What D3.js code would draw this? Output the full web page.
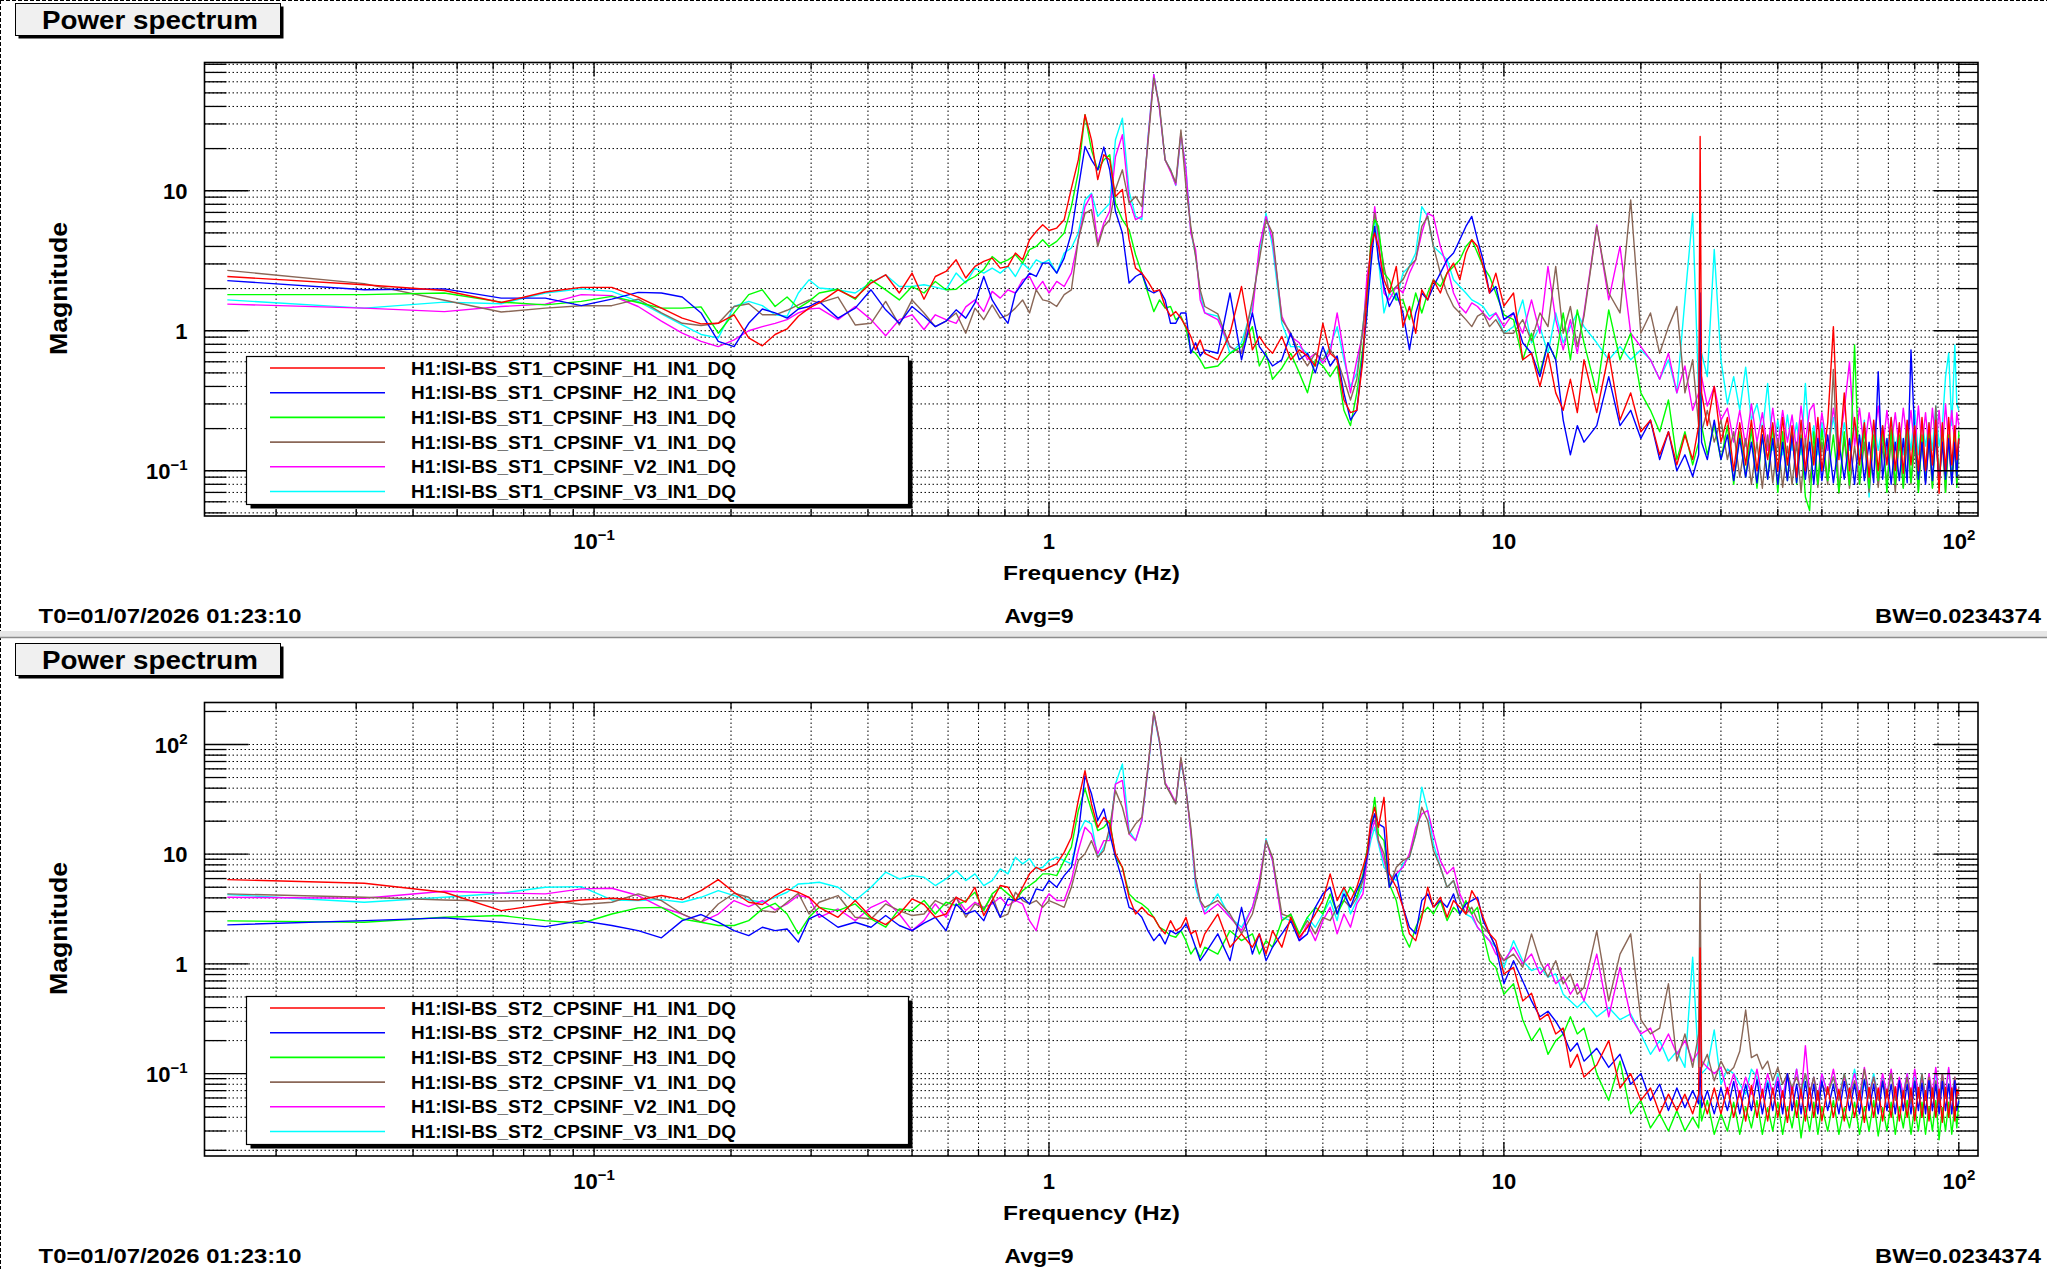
<!DOCTYPE html>
<html>
<head>
<meta charset="utf-8">
<script src="https://cdn.jsdelivr.net/npm/d3@7"></script>
<style>
  body { margin: 0; background: #fff; overflow: hidden; }
  text { font-family: "Liberation Sans", Arial, Helvetica, sans-serif; font-weight: bold; fill: #000; }
</style>
</head>
<body>
<svg id="chart"></svg>
<script>
// frequency bins (Hz), shared by all traces
const freq = [
  0.015625, 0.03125, 0.046875, 0.0625, 0.078125, 0.09375, 0.109375, 0.125, 0.140625, 0.15625,
  0.171875, 0.1875, 0.203125, 0.21875, 0.234375, 0.25, 0.265625, 0.28125, 0.296875,
  0.3125, 0.34375, 0.375, 0.40625, 0.4375, 0.46875, 0.5, 0.53125, 0.5625, 0.59375, 0.625,
  0.65625, 0.6875, 0.71875, 0.75, 0.78125, 0.8125, 0.84375, 0.875, 0.90625, 0.9375, 0.96875,
  1.0, 1.04, 1.08, 1.12, 1.16, 1.2, 1.24, 1.28, 1.32, 1.36, 1.4, 1.45, 1.5, 1.55, 1.6, 1.65,
  1.7, 1.75, 1.8, 1.85, 1.9, 1.95, 2.0, 2.05, 2.1, 2.15, 2.2,
  2.35, 2.5, 2.65, 2.8, 2.9, 3.0, 3.1, 3.25, 3.4, 3.55, 3.7, 3.85, 4.0, 4.15, 4.3, 4.45, 4.6, 4.75, 4.9, 5.0,
  5.1, 5.2, 5.3, 5.45, 5.6, 5.8, 6.0, 6.2, 6.4, 6.6, 6.8, 7.0, 7.25, 7.5, 7.75, 8.0, 8.25, 8.5, 8.75, 9.0, 9.3, 9.6, 10.0,
  10.5, 11, 11.5, 12, 12.5, 13, 13.5, 14, 14.5, 15, 16, 17, 18, 19, 20, 21, 22, 23, 24, 25,
  26, 26.8, 27, 27.2, 28, 29,
  30, 31, 32, 33, 34, 35, 36, 37, 38, 39, 40, 41, 42, 43, 44, 45, 46, 47, 48, 49, 50,
  51.5, 53, 54.5, 56, 57.5, 59, 60.5, 62, 63.5, 65, 66.5, 68, 69.5, 71, 72.5, 74, 75.5, 77, 78.5,
  80, 81.5, 83, 84.5, 86, 87.5, 89, 90.5, 92, 93.5, 95, 96.5, 98, 99, 100
];

// stage 1 magnitudes
const st1H1 = [
  2.44,2.13,1.94,1.59,1.89,2.04,2.04,1.74,1.45,1.23,1.12,1.13,1.30,0.89,0.78,0.94,1.03,1.27,1.45,
  1.58,1.96,1.71,2.19,2.51,1.86,2.58,1.68,2.44,2.65,3.21,2.38,2.88,3.13,3.30,2.80,2.88,3.59,3.21,4.47,5.12,5.71,
  5.2,5.41,6.21,10.4,16.6,34.9,23.1,12.0,18.1,16.6,9.1,10.2,4.47,2.80,2.58,2.25,1.91,1.96,1.49,1.27,1.37,1.23,1.07,0.91,0.73,0.86,0.69,
  0.62,0.96,2.07,0.73,0.91,0.77,0.69,0.91,0.62,0.73,0.66,0.56,1.13,0.69,0.62,0.32,0.26,0.27,0.62,1.86,
  4.0,4.99,4.0,2.31,1.86,2.88,1.07,1.49,0.96,1.96,1.66,2.31,1.86,2.58,3.04,2.31,3.59,4.47,4.0,2.88,1.86,2.58,1.5,
  1.86,0.62,0.69,0.40,0.69,0.36,0.27,0.45,0.26,0.62,0.26,0.69,0.23,0.36,0.19,0.23,0.13,0.19,0.11,0.18,
  0.12,0.21,24.4,0.36,0.21,0.40,
  0.16,0.24,0.10,0.22,0.11,0.23,0.10,0.21,0.12,0.22,0.10,0.24,0.11,0.21,0.09,0.23,0.10,0.22,0.11,0.24,0.10,
  0.22,1.07,0.12,0.36,0.10,0.24,0.11,0.22,0.09,0.23,0.10,0.21,0.11,0.24,0.10,0.22,0.096,0.23,
  0.11,0.21,0.10,0.24,0.10,0.22,0.11,0.23,0.069,0.22,0.10,0.24,0.11,0.21,0.12,0.17
];
const st1H2 = [
  2.28,1.96,1.99,1.71,1.71,1.51,1.68,1.88,1.86,1.74,1.34,0.84,0.77,1.13,1.43,1.34,1.23,1.43,1.49,
  1.62,1.23,1.45,1.96,1.41,1.13,1.49,1.27,1.07,1.17,1.41,1.23,1.58,2.44,1.66,1.34,1.13,1.86,2.19,2.58,2.44,3.04,
  3.04,2.58,3.30,4.99,10.4,20.7,16.6,14.1,20.5,14.1,7.13,4.99,2.19,2.44,2.58,1.96,1.86,1.96,1.66,1.13,1.13,1.34,1.34,0.69,0.82,0.66,0.73,
  0.69,1.86,0.62,1.34,0.77,0.66,0.56,0.62,0.96,0.62,0.69,0.50,0.77,0.56,0.66,0.36,0.23,0.27,0.69,1.34,
  2.88,5.56,3.21,2.07,1.49,1.86,1.34,0.73,1.34,1.86,1.66,2.07,2.58,3.21,3.59,4.47,5.56,6.56,4.47,3.21,1.86,2.07,1.2,
  1.34,0.82,0.69,0.47,0.82,0.62,0.23,0.13,0.21,0.16,0.21,0.47,0.21,0.27,0.17,0.23,0.12,0.19,0.10,0.13,
  0.091,0.13,1.86,0.16,0.12,0.23,
  0.12,0.18,0.085,0.17,0.09,0.16,0.082,0.18,0.087,0.17,0.08,0.16,0.085,0.18,0.082,0.17,0.087,0.16,0.08,0.17,0.085,
  0.18,0.082,0.16,0.087,0.17,0.08,0.18,0.085,0.16,0.082,0.51,0.087,0.17,0.08,0.16,0.085,0.17,0.082,
  0.73,0.18,0.087,0.16,0.08,0.17,0.085,0.18,0.082,0.16,0.087,0.17,0.08,0.16,0.091,0.17
];
const st1H3 = [
  1.81,1.81,1.86,1.60,1.53,1.62,1.76,1.59,1.45,1.45,1.48,0.96,1.34,1.81,1.96,1.49,1.74,1.45,1.62,
  1.86,1.98,1.68,2.31,1.96,1.66,2.07,1.86,2.25,1.96,1.98,2.25,2.44,2.73,3.39,3.04,3.21,3.49,3.04,3.79,4.0,4.47,
  4.0,4.35,4.99,7.70,13.6,34.9,19.5,14.1,16.6,18.1,8.15,6.21,5.26,3.49,2.58,1.86,1.37,1.66,1.45,1.49,1.20,1.27,1.04,0.73,0.69,0.62,0.54,
  0.56,0.69,0.77,1.07,0.56,0.69,0.45,0.54,0.69,0.50,0.36,0.62,0.56,0.47,0.56,0.27,0.21,0.36,0.77,1.34,
  4.47,6.21,5.56,2.58,2.31,1.66,1.66,1.20,1.86,1.34,1.86,2.31,2.07,2.58,2.88,3.21,4.0,4.47,3.59,2.88,2.44,1.86,1.3,
  1.2,0.62,0.96,0.5,0.82,0.62,1.34,0.62,1.41,0.82,0.36,1.41,0.62,0.96,0.36,0.27,0.19,0.32,0.12,0.19,
  0.11,0.16,0.36,0.21,0.13,0.21,
  0.12,0.21,0.08,0.19,0.09,0.2,0.075,0.18,0.087,0.21,0.07,0.19,0.085,0.2,0.08,0.18,0.065,0.052,0.19,0.08,0.2,
  0.085,0.18,0.07,0.19,0.079,0.79,0.08,0.2,0.075,0.18,0.085,0.19,0.07,0.2,0.08,0.18,0.075,0.21,
  0.082,0.19,0.07,0.18,0.085,0.2,0.075,0.19,0.08,0.21,0.07,0.18,0.085,0.2,0.076,0.19
];
const st1V1 = [
  2.70,2.17,1.65,1.36,1.45,1.51,1.51,1.68,1.34,1.13,1.09,1.13,1.49,1.56,1.30,1.30,1.40,1.53,1.66,
  1.58,1.74,1.10,1.13,1.62,1.10,1.66,1.34,1.07,1.17,1.34,0.96,1.45,1.20,1.53,1.23,1.30,1.45,1.66,1.34,1.96,1.66,
  1.62,1.49,1.81,1.96,4.47,6.9,7.33,4.0,5.56,6.21,10.2,14.1,8.15,9.1,7.7,21.8,63.7,40.1,16.6,14.1,11.4,27.2,10.7,5.56,3.39,1.96,1.49,
  1.32,0.77,0.69,1.66,3.21,6.21,4.99,1.20,0.96,0.69,0.56,0.69,0.62,0.73,0.62,0.45,0.32,0.45,1.07,1.86,
  4.0,6.9,4.99,2.88,1.86,2.07,2.31,2.88,3.21,5.56,6.56,4.0,2.58,1.86,1.49,1.34,1.20,1.07,1.27,1.34,1.07,1.20,0.96,
  0.96,1.2,0.85,1.34,1.07,2.88,0.96,1.49,0.77,1.27,5.56,1.86,1.34,8.6,0.96,1.34,0.69,1.07,1.49,0.36,
  0.62,0.21,0.36,0.19,0.27,0.16,
  0.23,0.12,0.19,0.09,0.17,0.08,0.16,0.075,0.18,0.082,0.17,0.076,0.15,0.08,0.16,0.07,0.17,0.082,0.15,0.076,0.16,
  0.08,0.53,0.069,0.17,0.075,0.15,0.08,0.16,0.07,0.17,0.076,0.15,0.082,0.16,0.07,0.17,0.076,0.16,
  0.08,0.15,0.072,0.17,0.082,0.16,0.076,0.29,0.08,0.16,0.07,0.17,0.082,0.15,0.08,0.18
];
const st1V2 = [
  1.55,1.45,1.37,1.49,1.55,1.81,1.78,1.49,1.17,0.96,0.84,0.77,0.86,1.0,1.07,1.13,1.20,1.34,1.43,
  1.45,1.20,1.49,1.20,0.92,1.20,1.30,1.02,1.30,1.20,1.13,1.48,1.66,1.37,1.91,1.71,1.96,1.86,2.31,2.44,1.96,2.25,
  1.86,2.25,2.07,2.58,4.47,7.7,9.4,4.23,5.88,7.13,17.5,25.1,8.6,6.21,6.56,23.1,67.6,37.9,16.6,13.7,11.0,25.8,14.1,4.99,3.79,1.66,1.34,
  1.20,0.77,0.69,1.34,4.0,6.56,4.47,1.27,0.91,0.82,0.62,0.69,0.59,0.69,1.34,0.69,0.36,0.62,0.96,2.44,
  3.59,7.7,4.47,1.86,1.66,2.07,1.86,2.58,3.21,4.99,6.9,6.56,4.0,2.88,1.86,1.49,1.34,1.58,1.49,1.34,1.20,1.34,1.07,
  1.34,0.96,1.66,0.96,2.88,1.2,0.73,1.2,0.69,1.34,5.7,1.66,4.0,0.96,0.77,0.62,0.45,0.69,0.36,0.56,
  0.27,0.36,0.3,0.47,0.29,0.4,
  0.23,0.28,0.16,0.27,0.15,0.3,0.16,0.26,0.14,0.28,0.15,0.27,0.16,0.25,0.14,0.29,0.16,0.27,0.3,0.15,0.26,
  0.14,0.28,0.15,0.27,0.6,0.15,0.28,0.14,0.26,0.16,0.29,0.14,0.27,0.15,0.26,0.14,0.28,0.16,
  0.27,0.14,0.29,0.15,0.26,0.14,0.28,0.15,0.27,0.14,0.3,0.16,0.27,0.15,0.26,0.21
];
const st1V3 = [
  1.66,1.45,1.60,1.56,1.86,1.99,1.91,1.62,1.32,1.10,0.94,0.89,1.49,1.62,1.51,1.30,1.27,1.86,2.31,
  2.02,1.96,1.86,2.21,2.51,2.07,2.07,2.13,2.05,1.96,2.58,2.19,2.80,2.58,2.80,2.58,2.88,2.44,3.04,2.73,3.21,3.04,
  3.21,2.58,3.59,3.90,4.99,8.6,9.6,6.56,7.33,8.15,23.1,33.0,9.9,6.56,6.21,23.7,67.6,39,16.6,14.1,10.9,25.1,14.5,5.12,3.49,1.86,1.34,
  1.27,0.69,0.82,1.49,3.59,6.9,4.0,1.13,0.77,0.77,0.69,0.56,0.62,0.77,1.07,0.62,0.40,0.50,1.07,2.07,
  3.21,6.9,3.21,1.34,1.86,1.66,2.58,2.88,3.59,7.7,6.56,4.0,3.59,3.21,2.31,2.07,1.86,1.66,1.58,1.49,1.27,1.34,0.96,
  1.07,1.66,0.82,1.07,0.69,1.34,0.82,1.07,1.34,1.07,0.82,0.62,0.77,0.62,0.73,0.62,0.45,0.62,0.36,1.66,
  6.9,0.36,0.5,0.69,0.47,3.8,
  0.62,0.3,0.47,0.27,0.55,0.23,0.3,0.19,0.42,0.14,0.23,0.13,0.25,0.14,0.22,0.13,0.42,0.14,0.21,0.13,0.22,
  0.14,0.24,0.13,0.22,0.14,0.21,0.13,0.23,0.065,0.22,0.14,0.21,0.13,0.24,0.14,0.21,0.13,0.22,
  0.14,0.27,0.13,0.23,0.15,0.22,0.14,0.29,0.15,0.21,0.47,0.69,0.21,0.79,0.3,0.27
];

// stage 2 magnitudes
const st2H1 = [
  5.87,5.44,4.50,3.06,3.52,3.83,3.97,3.83,4.20,3.86,4.66,5.87,4.50,3.65,3.48,4.20,4.83,4.50,4.05,
  3.28,2.66,3.78,2.66,2.28,2.85,3.91,3.48,2.66,2.85,4.05,3.65,5.0,2.76,3.78,5.18,5.0,3.78,5.0,6.62,7.6,7.1,
  7.6,8.17,10.4,14.3,30.9,57.8,28.7,17.6,21.7,18.9,10.1,7.6,4.05,2.85,3.28,2.85,2.66,2.16,1.88,2.48,2.01,2.16,2.66,1.88,2.01,1.42,1.88,
  2.85,1.42,1.88,1.42,1.88,1.23,2.01,1.42,2.66,1.75,2.16,2.85,3.78,6.62,3.78,5.0,3.78,5.0,7.6,10.1,
  20.3,26.8,17.6,33.0,6.62,5.0,3.28,1.88,1.63,2.66,5.0,3.28,4.05,2.66,3.78,3.28,2.85,4.66,3.78,2.66,1.88,1.63,0.81,
  0.93,0.46,0.54,0.31,0.35,0.23,0.26,0.114,0.15,0.093,0.12,0.2,0.074,0.1,0.057,0.074,0.043,0.065,0.046,0.065,
  0.043,0.065,1.4,0.065,0.043,0.074,
  0.043,0.075,0.04,0.07,0.037,0.078,0.04,0.072,0.037,0.074,0.04,0.07,0.036,0.075,0.04,0.072,0.037,0.074,0.04,0.07,0.037,
  0.076,0.04,0.072,0.037,0.074,0.04,0.07,0.036,0.075,0.04,0.074,0.037,0.072,0.04,0.076,0.037,0.07,0.04,
  0.074,0.037,0.075,0.04,0.07,0.037,0.074,0.04,0.072,0.036,0.075,0.04,0.074,0.037,0.072,0.065
];
const st2H2 = [
  2.27,2.48,2.63,2.40,2.19,2.48,2.24,2.01,1.73,2.48,2.82,2.40,2.01,1.81,2.16,2.01,2.08,1.58,2.57,
  2.85,2.16,2.40,2.16,2.76,2.24,2.01,2.35,2.66,2.01,3.52,2.85,3.06,2.48,3.78,2.66,3.91,3.78,4.05,3.52,4.83,4.66,
  5.75,5.0,6.38,7.6,15.3,52,35.5,20.3,25.9,15.3,9.4,5.75,3.28,3.06,2.66,2.01,1.63,1.88,1.52,2.01,1.88,2.01,2.31,1.88,1.42,1.07,1.23,
  1.88,1.07,3.28,1.23,1.88,1.07,1.42,1.88,2.48,1.63,1.88,3.28,4.35,5.0,2.85,4.35,3.28,4.66,6.16,9.4,
  17.6,23.3,18.9,17.6,5.0,6.62,3.28,2.16,1.88,3.78,4.35,3.28,3.78,3.28,4.35,2.85,3.52,3.78,4.05,2.48,1.88,1.42,0.66,
  1.07,0.70,0.46,0.33,0.37,0.30,0.23,0.16,0.19,0.13,0.17,0.114,0.15,0.08,0.1,0.057,0.08,0.046,0.074,0.049,
  0.07,0.053,0.114,0.049,0.07,0.043,
  0.074,0.046,0.085,0.043,0.08,0.046,0.088,0.043,0.082,0.046,0.085,0.043,0.1,0.046,0.08,0.043,0.085,0.046,0.08,0.043,0.086,
  0.046,0.08,0.043,0.085,0.046,0.08,0.043,0.088,0.046,0.08,0.043,0.085,0.046,0.08,0.043,0.086,0.046,0.08,
  0.043,0.085,0.046,0.082,0.043,0.086,0.046,0.08,0.043,0.085,0.046,0.08,0.043,0.086,0.046,0.057
];
const st2H3 = [
  2.47,2.40,2.66,2.76,2.48,2.35,2.85,3.24,3.28,2.57,2.40,2.24,2.24,2.48,3.17,3.57,2.85,1.88,2.66,
  3.28,3.06,3.52,2.57,2.16,3.17,3.06,3.78,2.85,3.65,3.40,3.78,4.50,3.06,4.35,5.0,4.35,3.78,4.66,5.18,5.75,6.62,
  6.62,6.38,8.75,11.6,25.0,39.4,25.0,16.4,17.6,20.3,9.4,7.6,4.35,3.78,3.52,3.17,2.66,2.16,2.01,1.81,1.75,2.01,1.63,1.23,1.42,1.15,1.42,
  1.23,2.01,1.63,1.88,1.23,1.63,1.42,2.48,2.85,1.88,2.66,3.28,2.85,4.35,2.85,3.78,5.0,4.05,6.62,10.8,
  17.6,33.0,15.3,13.3,5.36,3.78,1.88,1.42,2.16,2.85,3.28,2.85,3.78,2.48,3.28,2.85,3.78,2.85,3.28,1.88,1.07,0.93,0.53,
  0.66,0.31,0.2,0.26,0.15,0.2,0.23,0.33,0.23,0.26,0.1,0.057,0.13,0.043,0.057,0.032,0.043,0.03,0.046,0.03,
  0.04,0.032,0.057,0.037,0.057,0.028,
  0.043,0.03,0.055,0.028,0.05,0.032,0.057,0.028,0.049,0.03,0.055,0.028,0.05,0.032,0.057,0.026,0.049,0.03,0.055,0.028,0.05,
  0.03,0.057,0.028,0.049,0.032,0.055,0.028,0.05,0.03,0.057,0.027,0.049,0.03,0.055,0.028,0.05,0.032,0.057,
  0.028,0.049,0.03,0.055,0.028,0.05,0.03,0.057,0.025,0.049,0.03,0.055,0.028,0.05,0.032,0.057
];
const st2V1 = [
  4.35,4.05,3.83,3.73,3.83,3.48,3.65,4.35,3.78,2.85,2.40,3.52,4.41,4.05,3.06,2.96,3.65,4.41,2.85,
  3.65,4.20,2.66,2.57,3.52,3.06,2.76,2.85,3.78,3.40,4.05,2.66,3.52,3.17,4.20,2.66,2.85,4.50,3.78,3.52,3.78,3.28,
  3.78,3.52,3.28,5.0,8.75,10.1,13.3,9.4,10.8,17.6,38.0,26.8,15.3,18.9,21.7,62,197,108,43.6,35.5,28.7,76.5,38.0,17.6,6.16,3.78,3.28,
  3.78,2.85,1.88,2.85,5.0,13.3,9.4,2.85,2.66,1.88,2.48,1.88,2.66,2.48,3.28,3.78,3.28,4.05,5.75,9.4,
  17.6,23.3,13.3,10.1,5.0,7.6,8.75,9.4,15.3,26.8,20.3,10.8,7.6,5.0,5.75,3.78,2.85,3.28,2.48,2.16,1.88,1.42,1.07,
  1.23,0.93,1.88,1.07,0.76,1.07,0.66,0.81,0.53,0.61,2.0,0.46,1.23,1.88,0.31,0.23,0.26,0.66,0.13,0.23,
  0.114,0.23,6.6,0.114,0.15,0.086,
  0.13,0.1,0.114,0.16,0.38,0.14,0.15,0.11,0.13,0.086,0.114,0.08,0.1,0.074,0.093,0.07,0.1,0.065,0.093,0.057,0.08,
  0.065,0.093,0.057,0.1,0.06,0.086,0.057,0.11,0.06,0.093,0.057,0.086,0.06,0.1,0.057,0.08,0.06,0.093,
  0.053,0.086,0.06,0.1,0.057,0.093,0.06,0.086,0.053,0.1,0.06,0.08,0.057,0.093,0.06,0.074
];
const st2V2 = [
  4.05,3.97,4.59,4.43,4.35,4.83,4.90,4.20,3.28,2.85,2.40,2.85,3.78,3.33,3.78,3.11,3.52,4.20,4.05,
  2.66,3.17,2.48,3.28,3.78,2.85,2.01,2.48,3.52,2.66,4.05,3.06,3.65,3.28,3.52,4.05,3.40,3.78,3.52,2.48,2.01,3.52,
  4.35,3.78,3.78,5.75,10.8,17.6,15.3,10.1,13.3,13.3,43.6,47,15.3,13.3,20.3,60,197,105,45,36.7,29.6,74,39.4,15.8,5.75,3.78,2.85,
  3.52,2.66,2.01,3.28,5.75,13.3,8.75,2.48,2.85,1.63,2.31,1.63,2.48,3.28,1.88,2.85,2.16,3.52,4.35,8.75,
  15.3,20.3,13.3,8.75,5.75,6.62,7.6,10.1,17.6,23.3,25.0,15.3,8.75,6.62,7.6,4.35,3.28,2.85,2.16,1.88,1.63,1.23,1.07,
  1.42,1.0,1.23,0.81,1.0,0.66,0.76,0.53,0.66,0.46,1.23,0.33,0.93,0.33,0.23,0.26,0.16,0.23,0.15,0.2,
  0.13,0.16,0.46,0.13,0.114,0.1,
  0.114,0.065,0.1,0.061,0.093,0.065,0.11,0.061,0.1,0.065,0.093,0.061,0.1,0.065,0.11,0.061,0.18,0.065,0.093,0.061,0.1,
  0.065,0.11,0.061,0.093,0.065,0.1,0.061,0.114,0.065,0.093,0.061,0.1,0.065,0.11,0.061,0.093,0.065,0.1,
  0.061,0.11,0.065,0.093,0.061,0.1,0.065,0.114,0.061,0.1,0.065,0.114,0.061,0.093,0.065,0.065
];
const st2V3 = [
  4.29,3.65,4.05,4.41,5.0,5.07,3.83,3.78,3.86,3.65,4.05,4.66,4.20,3.83,3.65,4.05,4.5,5.36,5.44,
  5.55,5.0,3.78,5.0,6.85,5.95,6.38,6.16,5.18,5.95,7.1,5.75,6.62,5.18,5.75,7.35,6.62,9.4,8.17,9.1,7.35,7.6,
  8.75,9.4,8.75,8.17,15.3,20.3,18.9,9.4,11.6,15.3,43.6,66.6,16.4,13.3,20.3,58,190,103,44,36,29,70,40,16.2,5.0,3.65,2.96,
  4.35,2.66,2.16,3.28,5.36,13.8,8.75,2.66,2.48,1.88,2.66,2.16,2.85,3.78,2.48,5.0,2.85,3.78,5.0,8.75,
  13.3,17.6,12.4,7.6,6.62,5.75,8.17,9.4,15.3,40.8,25.0,12.4,7.6,5.0,5.75,3.78,2.85,2.66,2.16,1.88,1.63,1.42,0.93,
  1.63,1.07,0.87,0.93,0.76,0.81,0.53,0.46,0.40,0.46,0.33,0.40,0.31,0.35,0.23,0.15,0.2,0.13,0.16,0.114,
  1.15,0.114,0.23,0.1,0.114,0.25,
  0.08,0.11,0.1,0.08,0.065,0.11,0.093,0.061,0.086,0.065,0.1,0.061,0.093,0.065,0.11,0.061,0.1,0.065,0.093,0.061,0.1,
  0.065,0.093,0.061,0.1,0.065,0.11,0.061,0.086,0.065,0.1,0.061,0.093,0.065,0.1,0.061,0.086,0.065,0.1,
  0.061,0.093,0.065,0.1,0.061,0.086,0.065,0.1,0.061,0.093,0.065,0.11,0.061,0.08,0.065,0.065
];

const channels = ["H1", "H2", "H3", "V1", "V2", "V3"];
const colors = ["#ff0000", "#0000ff", "#00ff00", "#8a6757", "#ff00ff", "#00ffff"];
const st1Labels = channels.map(c => `H1:ISI-BS_ST1_CPSINF_${c}_IN1_DQ`);
const st2Labels = channels.map(c => `H1:ISI-BS_ST2_CPSINF_${c}_IN1_DQ`);

// axis decades and their labels [base, exponent]
const xMajor = [0.1, 1, 10, 100];
const xMajorLabels = [["10", "\u22121"], ["1", ""], ["10", ""], ["10", "2"]];
const y1Major = [0.1, 1, 10];
const y1MajorLabels = [["10", "\u22121"], ["1", ""], ["10", ""]];
const y2Major = [0.1, 1, 10, 100];
const y2MajorLabels = [["10", "\u22121"], ["1", ""], ["10", ""], ["10", "2"]];

const footer = { t0: "T0=01/07/2026 01:23:10", avg: "Avg=9", bw: "BW=0.0234374" };

const W = 2047, H = 1269;
const frame = { l: 204.5, r: 1978, t: 62.5, b: 516 };

const svg = d3.select("#chart").attr("width", W).attr("height", H);

const x = d3.scaleLog().domain([0.01392, 110.2]).range([frame.l, frame.r]);

function logTicks(lo, hi) {
  const out = [];
  for (let e = Math.floor(Math.log10(lo)); e <= Math.ceil(Math.log10(hi)); e++) {
    for (let k = 1; k <= 9; k++) {
      const v = k * Math.pow(10, e);
      if (v >= lo && v <= hi) out.push({ v: v, major: k === 1 });
    }
  }
  return out;
}

function label(g, s, px, py, o) {
  const t = g.append("text").attr("x", px).attr("y", py)
    .attr("font-size", o.size || 21)
    .attr("text-anchor", o.anchor || "start")
    .text(s);
  if (o.width) t.attr("textLength", o.width).attr("lengthAdjust", "spacingAndGlyphs");
  if (o.rotate) t.attr("transform", `rotate(-90,${px},${py})`);
  return t;
}

function tickLabel(g, parts, px, py, anchor) {
  const t = g.append("text").attr("x", px).attr("y", py)
    .attr("font-size", 22).attr("text-anchor", anchor);
  t.append("tspan").text(parts[0]);
  if (parts[1]) t.append("tspan").attr("font-size", 15).attr("dy", -9).text(parts[1]);
}

function drawPad(offsetY, id, yDomain, yMajor, yLabels, series, names) {
  const g = svg.append("g").attr("transform", `translate(0,${offsetY})`);
  const y = d3.scaleLog().domain(yDomain).range([frame.b, frame.t]);

  // title box
  g.append("rect").attr("x", 18.5).attr("y", 6.5).attr("width", 265).attr("height", 32).attr("fill", "#000");
  g.append("rect").attr("x", 15.5).attr("y", 3.5).attr("width", 265).attr("height", 32)
    .attr("fill", "#f0f0f0").attr("stroke", "#000").attr("stroke-width", 1);
  label(g, "Power spectrum", 150, 28.5, { size: 25, anchor: "middle", width: 216 });

  // grid
  const xt = logTicks(x.domain()[0], x.domain()[1]);
  const yt = logTicks(yDomain[0], yDomain[1]);
  const grid = g.append("g").attr("stroke", "#000").attr("stroke-width", 1).attr("stroke-dasharray", "1.5,2.5");
  grid.selectAll("line.gx").data(xt).join("line").attr("class", "gx")
    .attr("x1", d => x(d.v)).attr("x2", d => x(d.v)).attr("y1", frame.t).attr("y2", frame.b);
  grid.selectAll("line.gy").data(yt).join("line").attr("class", "gy")
    .attr("x1", frame.l).attr("x2", frame.r).attr("y1", d => y(d.v)).attr("y2", d => y(d.v));

  // traces, last channel drawn first so H1 ends on top
  g.append("clipPath").attr("id", "clip" + id).append("rect")
    .attr("x", frame.l).attr("y", frame.t).attr("width", frame.r - frame.l).attr("height", frame.b - frame.t);
  const line = d3.line().x(d => x(d[0])).y(d => y(d[1]));
  const traces = g.append("g").attr("clip-path", `url(#clip${id})`);
  [5, 4, 3, 2, 1, 0].forEach(i => {
    const n = Math.min(freq.length, series[i].length);
    traces.append("path")
      .datum(d3.zip(freq.slice(0, n), series[i].slice(0, n)))
      .attr("fill", "none").attr("stroke", colors[i]).attr("stroke-width", 1.4)
      .attr("stroke-linejoin", "round")
      .attr("d", line);
  });

  // frame and ticks
  g.append("rect").attr("x", frame.l).attr("y", frame.t)
    .attr("width", frame.r - frame.l).attr("height", frame.b - frame.t)
    .attr("fill", "none").attr("stroke", "#000").attr("stroke-width", 1.6);
  const ticks = g.append("g").attr("stroke", "#000").attr("stroke-width", 1.3);
  xt.forEach(d => {
    const len = d.major ? 14 : 7;
    ticks.append("line").attr("x1", x(d.v)).attr("x2", x(d.v)).attr("y1", frame.b).attr("y2", frame.b - len);
    ticks.append("line").attr("x1", x(d.v)).attr("x2", x(d.v)).attr("y1", frame.t).attr("y2", frame.t + len);
  });
  yt.forEach(d => {
    const len = d.major ? 44 : 22;
    ticks.append("line").attr("x1", frame.l).attr("x2", frame.l + len).attr("y1", y(d.v)).attr("y2", y(d.v));
    ticks.append("line").attr("x1", frame.r).attr("x2", frame.r - len).attr("y1", y(d.v)).attr("y2", y(d.v));
  });

  // tick labels
  xMajor.forEach((v, i) => tickLabel(g, xMajorLabels[i], x(v), 548.5, "middle"));
  yMajor.forEach((v, i) => tickLabel(g, yLabels[i], 187.5, y(v) + 8, "end"));

  // axis titles
  label(g, "Frequency (Hz)", 1091.5, 580, { size: 21, anchor: "middle", width: 177 });
  label(g, "Magnitude", 67, 288.5, { size: 24, anchor: "middle", width: 133, rotate: true });

  // legend
  const lx = 246.5, ly = 356.5, lw = 662, lh = 148;
  g.append("rect").attr("x", lx + 4).attr("y", ly + 4).attr("width", lw).attr("height", lh).attr("fill", "#000");
  g.append("rect").attr("x", lx).attr("y", ly).attr("width", lw).attr("height", lh)
    .attr("fill", "#fff").attr("stroke", "#000").attr("stroke-width", 1.2);
  names.forEach((nm, i) => {
    const ry = 368 + i * 24.7;
    g.append("line").attr("x1", 270).attr("x2", 385).attr("y1", ry).attr("y2", ry)
      .attr("stroke", colors[i]).attr("stroke-width", 1.6);
    label(g, nm, 411, ry + 6.5, { size: 18.5, width: 325 });
  });

  // footer
  label(g, footer.t0, 38.6, 623, { size: 21, width: 263 });
  label(g, footer.avg, 1039, 623, { size: 21, anchor: "middle", width: 69 });
  label(g, footer.bw, 2041, 623, { size: 21, anchor: "end", width: 166 });
}

// pad borders and separator
svg.append("line").attr("x1", 0.5).attr("x2", 0.5).attr("y1", 0).attr("y2", H)
  .attr("stroke", "#000").attr("stroke-width", 1).attr("stroke-dasharray", "4,2");
svg.append("line").attr("x1", 0).attr("x2", W).attr("y1", 0.5).attr("y2", 0.5)
  .attr("stroke", "#000").attr("stroke-width", 1).attr("stroke-dasharray", "4,2");
svg.append("rect").attr("x", 0).attr("y", 631).attr("width", W).attr("height", 6).attr("fill", "#e6e6e6");
svg.append("line").attr("x1", 0).attr("x2", W).attr("y1", 637.5).attr("y2", 637.5)
  .attr("stroke", "#8c8c8c").attr("stroke-width", 1.3);

drawPad(0, 1, [0.0475, 82.4], y1Major, y1MajorLabels,
  [st1H1, st1H2, st1H3, st1V1, st1V2, st1V3], st1Labels);
drawPad(640, 2, [0.01775, 241.5], y2Major, y2MajorLabels,
  [st2H1, st2H2, st2H3, st2V1, st2V2, st2V3], st2Labels);
</script>
</body>
</html>
